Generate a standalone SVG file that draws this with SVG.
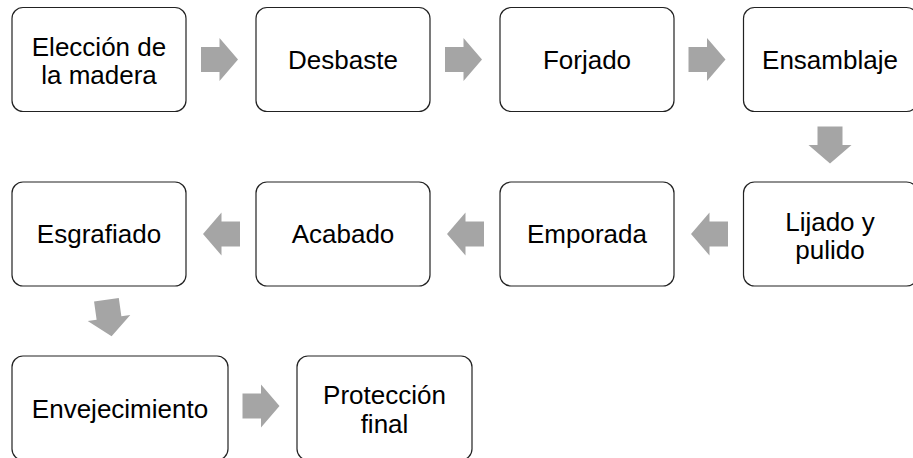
<svg xmlns="http://www.w3.org/2000/svg" width="913" height="458" viewBox="0 0 913 458">
<defs>
<style>
.box{fill:#fff;stroke:#222;stroke-width:1.2}
.t{font-family:"Liberation Sans",Arial,sans-serif;font-size:26px;fill:#000;text-anchor:middle}
.arr{fill:#A5A5A5}
</style>
<path id="a" d="M-18.5,-12.5 H0 V-21.5 L18.5,0 L0,21.5 V12.5 H-18.5 Z"/>
</defs>
<rect width="913" height="458" fill="#fff"/>
<g id="connectors" class="arr">
<use href="#a" transform="translate(219.5,59.5)"/>
<use href="#a" transform="translate(463.5,59.5)"/>
<use href="#a" transform="translate(707,59.5)"/>
<use href="#a" transform="translate(830,145) rotate(90)"/>
<use href="#a" transform="translate(709.5,234) rotate(180)"/>
<use href="#a" transform="translate(465.5,234) rotate(180)"/>
<use href="#a" transform="translate(221.5,234) rotate(180)"/>
<use href="#a" transform="translate(109,318) rotate(82)"/>
<use href="#a" transform="translate(261,406)"/>
</g>
<g id="n1"><rect class="box" x="12" y="7.5" width="174" height="104" rx="11"/><text class="t" x="99" y="56">Elección de</text><text class="t" x="99" y="84">la madera</text></g>
<g id="n2"><rect class="box" x="256" y="7.5" width="174" height="104" rx="11"/><text class="t" x="343" y="69">Desbaste</text></g>
<g id="n3"><rect class="box" x="500" y="7.5" width="174" height="104" rx="11"/><text class="t" x="587" y="69">Forjado</text></g>
<g id="n4"><rect class="box" x="743.5" y="7.5" width="174" height="104" rx="11"/><text class="t" x="830" y="69">Ensamblaje</text></g>
<g id="n5"><rect class="box" x="743.5" y="182" width="174" height="104" rx="11"/><text class="t" x="830" y="231">Lijado y</text><text class="t" x="830" y="259">pulido</text></g>
<g id="n6"><rect class="box" x="500" y="182" width="174" height="104" rx="11"/><text class="t" x="587" y="243">Emporada</text></g>
<g id="n7"><rect class="box" x="256" y="182" width="174" height="104" rx="11"/><text class="t" x="343" y="243">Acabado</text></g>
<g id="n8"><rect class="box" x="12" y="182" width="174" height="104" rx="11"/><text class="t" x="99" y="243">Esgrafiado</text></g>
<g id="n9"><rect class="box" x="12" y="356" width="216" height="104" rx="11"/><text class="t" x="120" y="418">Envejecimiento</text></g>
<g id="n10"><rect class="box" x="297" y="356" width="175" height="104" rx="11"/><text class="t" x="384.5" y="404">Protección</text><text class="t" x="384.5" y="433">final</text></g>
</svg>
